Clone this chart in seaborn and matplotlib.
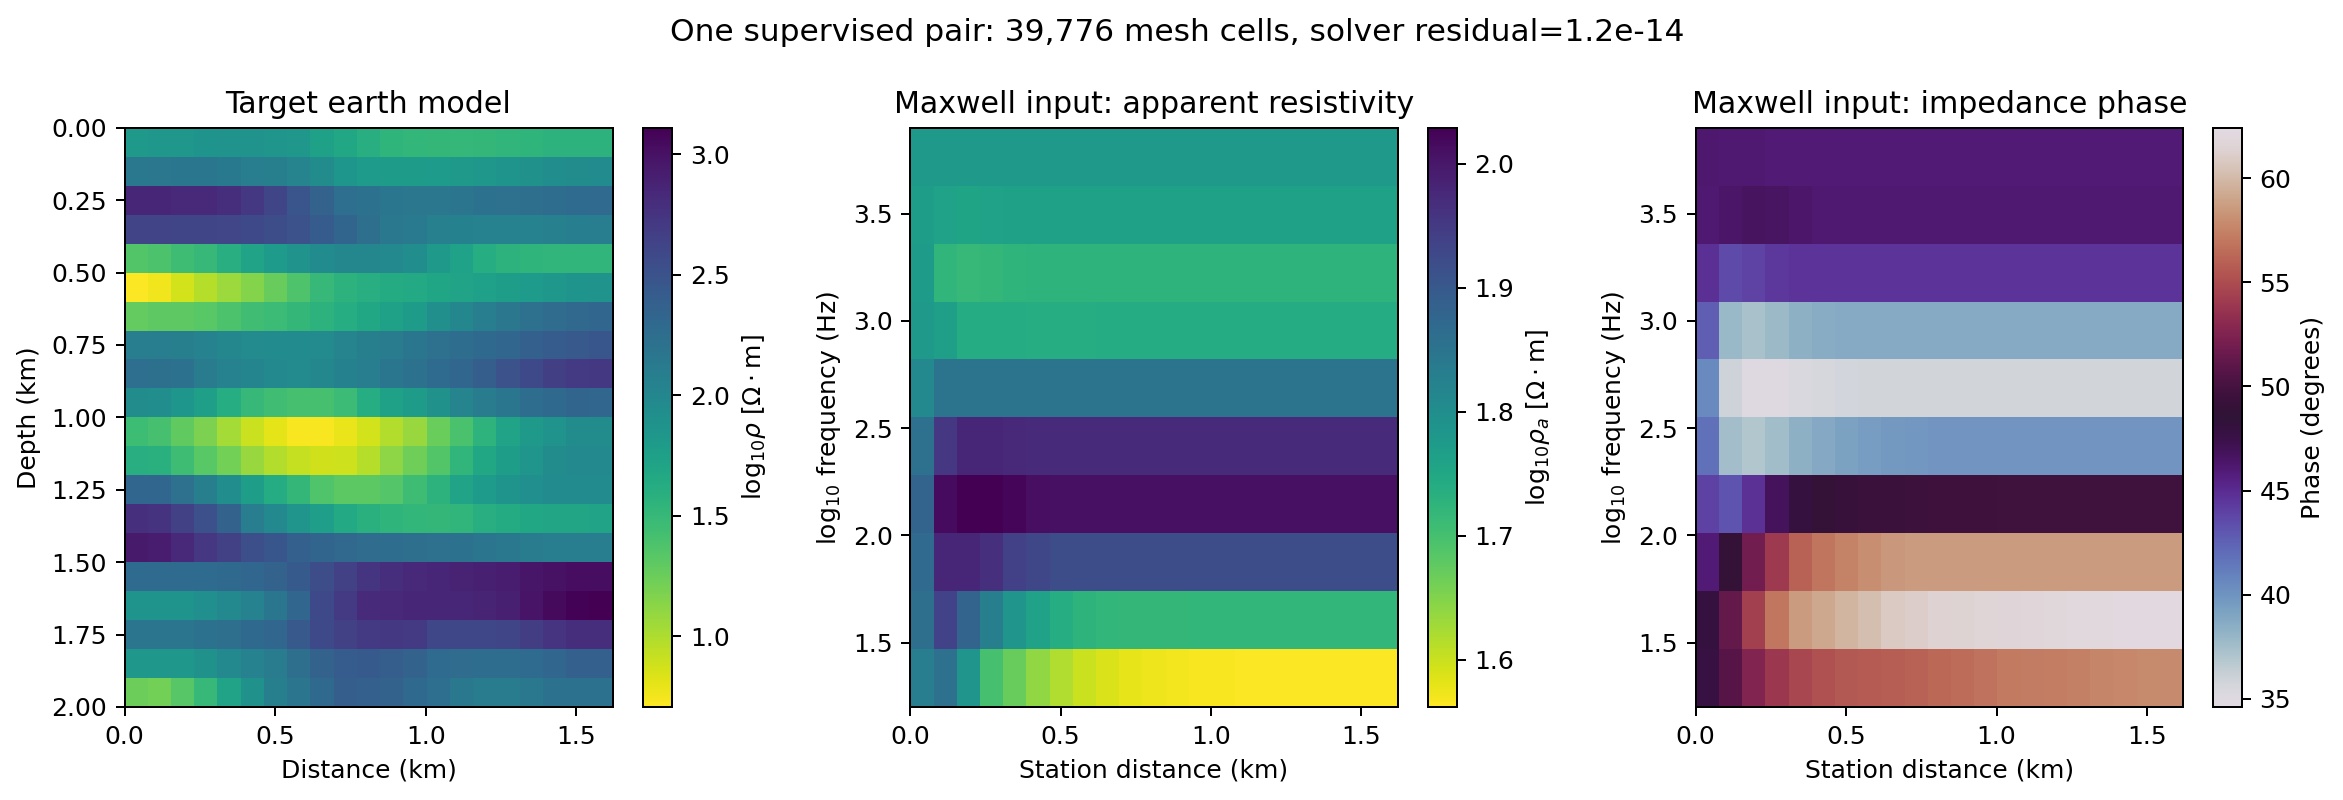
import numpy as np
import matplotlib
matplotlib.use("Agg")
import matplotlib.pyplot as plt
import seaborn as sns

# Axis extents
x_max = 1.62
depth_max = 2.0
freq_min = 1.2
freq_max = 3.9

suptitle = "One supervised pair: 39,776 mesh cells, solver residual=1.2e-14"

# log10 resistivity, rows top to bottom (depth increasing)
earth_model = [
    [1.81,1.83,1.83,1.87,1.88,1.88,1.86,1.83,1.74,1.68,1.60,1.55,1.53,1.52,1.51,1.52,1.54,1.55,1.57,1.57,1.57],
    [2.15,2.16,2.17,2.17,2.14,2.10,2.08,2.03,1.95,1.85,1.80,1.79,1.79,1.80,1.82,1.84,1.87,1.90,1.93,1.95,1.96],
    [2.85,2.85,2.84,2.84,2.80,2.72,2.62,2.48,2.35,2.25,2.20,2.17,2.16,2.16,2.18,2.20,2.22,2.24,2.26,2.28,2.29],
    [2.63,2.63,2.62,2.62,2.61,2.58,2.55,2.50,2.42,2.34,2.24,2.15,2.13,2.07,2.06,2.05,2.05,2.05,2.07,2.09,2.10],
    [1.36,1.39,1.45,1.50,1.60,1.72,1.80,1.88,1.96,2.00,2.00,1.98,1.93,1.82,1.73,1.62,1.57,1.55,1.54,1.54,1.54],
    [0.72,0.76,0.87,0.97,1.07,1.15,1.27,1.38,1.50,1.57,1.60,1.64,1.66,1.69,1.72,1.75,1.78,1.80,1.83,1.87,1.88],
    [1.28,1.30,1.30,1.33,1.39,1.44,1.47,1.52,1.57,1.62,1.68,1.74,1.79,1.91,2.00,2.10,2.16,2.22,2.27,2.31,2.32],
    [2.10,2.10,2.08,2.05,2.00,1.97,1.96,1.96,1.97,2.03,2.08,2.12,2.17,2.22,2.26,2.30,2.33,2.38,2.42,2.45,2.47],
    [2.25,2.23,2.20,2.12,2.05,2.02,1.98,1.97,2.00,2.06,2.10,2.17,2.20,2.28,2.33,2.40,2.50,2.58,2.66,2.70,2.72],
    [1.95,1.93,1.85,1.76,1.62,1.50,1.44,1.42,1.42,1.47,1.62,1.74,1.79,1.90,2.03,2.12,2.17,2.26,2.30,2.34,2.33],
    [1.46,1.42,1.29,1.18,1.03,0.90,0.81,0.73,0.73,0.79,0.87,0.98,1.08,1.26,1.40,1.56,1.72,1.82,1.88,1.95,1.95],
    [1.60,1.58,1.45,1.33,1.22,1.08,0.98,0.92,0.88,0.89,0.97,1.12,1.24,1.36,1.54,1.68,1.78,1.86,1.95,1.98,1.98],
    [2.33,2.33,2.22,2.08,1.93,1.78,1.63,1.52,1.37,1.31,1.31,1.35,1.45,1.57,1.72,1.80,1.87,1.92,1.96,1.96,1.96],
    [2.78,2.76,2.65,2.52,2.35,2.10,1.98,1.86,1.77,1.66,1.58,1.55,1.53,1.52,1.54,1.60,1.64,1.68,1.70,1.70,1.72],
    [2.95,2.92,2.83,2.73,2.65,2.53,2.47,2.38,2.34,2.31,2.27,2.26,2.24,2.22,2.20,2.18,2.15,2.12,2.10,2.10,2.10],
    [2.28,2.28,2.28,2.28,2.30,2.33,2.35,2.44,2.55,2.65,2.74,2.80,2.83,2.85,2.88,2.90,2.93,2.97,3.00,3.03,3.03],
    [1.87,1.87,1.87,1.92,1.98,2.05,2.17,2.33,2.58,2.70,2.82,2.84,2.85,2.85,2.85,2.87,2.90,2.98,3.05,3.10,3.11],
    [2.18,2.18,2.18,2.20,2.24,2.30,2.33,2.45,2.58,2.65,2.70,2.72,2.70,2.60,2.60,2.60,2.62,2.68,2.75,2.80,2.80],
    [1.83,1.83,1.83,1.90,1.98,2.05,2.12,2.24,2.36,2.42,2.44,2.40,2.36,2.28,2.27,2.26,2.26,2.28,2.33,2.38,2.38],
    [1.25,1.22,1.34,1.50,1.72,1.90,2.08,2.18,2.30,2.40,2.38,2.35,2.30,2.25,2.15,2.12,2.12,2.15,2.20,2.20,2.20],
]

# log10 apparent resistivity, rows top to bottom (frequency decreasing)
app_res = [
    [1.778,1.778,1.778,1.778,1.778,1.778,1.778,1.778,1.778,1.778,1.778,1.778,1.778,1.778,1.778,1.778,1.778,1.778,1.778,1.778,1.778],
    [1.770,1.760,1.757,1.760,1.762,1.763,1.763,1.763,1.763,1.763,1.763,1.763,1.763,1.763,1.763,1.763,1.763,1.763,1.763,1.763,1.763],
    [1.773,1.724,1.716,1.720,1.725,1.727,1.727,1.727,1.727,1.727,1.727,1.727,1.727,1.727,1.727,1.727,1.727,1.727,1.727,1.727,1.727],
    [1.777,1.768,1.742,1.742,1.742,1.740,1.740,1.740,1.741,1.741,1.741,1.741,1.741,1.741,1.741,1.741,1.741,1.741,1.741,1.741,1.741],
    [1.810,1.852,1.851,1.852,1.852,1.852,1.852,1.852,1.852,1.852,1.852,1.852,1.852,1.852,1.852,1.852,1.852,1.852,1.852,1.852,1.852],
    [1.857,1.955,1.978,1.978,1.975,1.973,1.973,1.973,1.973,1.973,1.973,1.973,1.973,1.973,1.973,1.973,1.973,1.973,1.973,1.973,1.973],
    [1.880,2.015,2.029,2.029,2.022,2.011,2.010,2.010,2.010,2.010,2.010,2.010,2.010,2.010,2.010,2.010,2.010,2.010,2.010,2.010,2.010],
    [1.870,1.978,1.978,1.964,1.940,1.930,1.921,1.920,1.920,1.920,1.920,1.920,1.920,1.920,1.920,1.920,1.920,1.920,1.920,1.920,1.920],
    [1.861,1.936,1.880,1.830,1.786,1.760,1.740,1.728,1.722,1.720,1.720,1.720,1.721,1.722,1.722,1.722,1.722,1.722,1.722,1.722,1.722],
    [1.833,1.857,1.786,1.700,1.670,1.640,1.618,1.600,1.588,1.580,1.574,1.570,1.567,1.566,1.565,1.565,1.564,1.564,1.564,1.564,1.564],
]

# Impedance phase in degrees, rows top to bottom
phase = [
    [46.2,46.1,46.1,46.0,46.0,46.0,46.0,46.0,46.0,46.0,46.0,46.0,46.0,46.0,46.0,46.0,46.0,46.0,46.0,46.0,46.0],
    [46.1,46.4,46.7,46.6,46.3,46.1,46.1,46.1,46.1,46.1,46.1,46.1,46.1,46.1,46.1,46.1,46.1,46.1,46.1,46.1,46.1],
    [44.8,43.6,43.9,44.4,44.6,44.6,44.6,44.6,44.6,44.6,44.6,44.6,44.6,44.6,44.6,44.6,44.6,44.6,44.6,44.6,44.6],
    [42.7,37.9,37.3,37.8,38.4,38.6,38.7,38.7,38.7,38.7,38.7,38.7,38.7,38.7,38.7,38.7,38.7,38.7,38.7,38.7,38.7],
    [40.5,35.9,35.0,35.0,35.3,35.5,35.7,35.8,35.8,35.8,35.8,35.8,35.8,35.8,35.8,35.8,35.8,35.8,35.8,35.8,35.8],
    [41.8,37.5,37.0,37.6,38.4,38.8,39.2,39.5,39.7,39.8,39.9,39.9,39.9,39.9,39.9,39.9,39.9,39.9,39.9,39.9,39.9],
    [44.0,43.2,44.7,46.8,48.0,48.9,49.2,49.3,49.4,49.5,49.6,49.6,49.6,49.7,49.7,49.7,49.7,49.7,49.7,49.7,49.7],
    [46.0,48.9,51.9,54.0,56.0,56.9,57.5,58.0,58.4,58.6,58.6,58.6,58.6,58.6,58.6,58.6,58.6,58.6,58.6,58.6,58.6],
    [48.0,51.3,54.3,57.0,58.6,59.2,59.8,60.2,60.9,61.1,61.4,61.5,61.6,61.7,61.8,61.9,62.0,62.1,62.2,62.2,62.2],
    [47.9,50.7,52.6,53.9,54.7,55.2,55.6,55.7,55.8,56.0,56.3,56.5,56.8,57.1,57.2,57.3,57.4,57.6,57.7,57.8,57.9],
]

x_ticks = [0.0, 0.5, 1.0, 1.5]
depth_ticks = [0.0, 0.25, 0.5, 0.75, 1.0, 1.25, 1.5, 1.75, 2.0]
freq_ticks = [1.5, 2.0, 2.5, 3.0, 3.5]

W, H = 2343, 800
DPI = 180
fig = plt.figure(figsize=(W / DPI, H / DPI), dpi=DPI)


def px_axes(left, right, top=127.8, bottom=707.0):
    return fig.add_axes([left / W, 1 - bottom / H, (right - left) / W, (bottom - top) / H])


def draw_panel(ax_box, cax_box, data, cmap, vmin, vmax, title, xlabel, ylabel, clabel):
    ax = px_axes(*ax_box)
    cax = px_axes(*cax_box)
    sns.heatmap(np.array(data), ax=ax, cbar_ax=cax, cmap=cmap, vmin=vmin, vmax=vmax,
                xticklabels=False, yticklabels=False, cbar_kws={"label": clabel})
    for spine in ax.spines.values():
        spine.set_visible(True)
        spine.set_linewidth(0.8)
    ax.collections[0].colorbar.outline.set_linewidth(0.8)
    ax.set_title(title)
    ax.set_xlabel(xlabel)
    ax.set_ylabel(ylabel)
    n_rows, n_cols = np.array(data).shape
    ax.set_xticks([t / x_max * n_cols for t in x_ticks])
    ax.set_xticklabels([f"{t:.1f}" for t in x_ticks])
    ax.tick_params(axis="both", length=3.5, width=0.8, rotation=0)
    return ax, n_rows


ax1, n1 = draw_panel((124.5, 612.5), (642.7, 672.3), earth_model, "viridis_r", 0.707, 3.11,
                     "Target earth model", "Distance (km)", "Depth (km)",
                     r"$\mathrm{log}_{10}\rho$ [$\Omega\cdot$m]")
ax1.set_yticks([d / depth_max * n1 for d in depth_ticks])
ax1.set_yticklabels([f"{d:.2f}" for d in depth_ticks])

ax2, n2 = draw_panel((910.3, 1397.5), (1427.7, 1457.0), app_res, "viridis_r", 1.562, 2.029,
                     "Maxwell input: apparent resistivity", "Station distance (km)",
                     r"$\mathrm{log}_{10}$ frequency (Hz)", r"$\mathrm{log}_{10}\rho_a$ [$\Omega\cdot$m]")
ax3, n3 = draw_panel((1695.7, 2183.0), (2212.7, 2242.0), phase, "twilight", 34.6, 62.43,
                     "Maxwell input: impedance phase", "Station distance (km)",
                     r"$\mathrm{log}_{10}$ frequency (Hz)", "Phase (degrees)")
for ax, n in ((ax2, n2), (ax3, n3)):
    ax.set_yticks([(freq_max - f) / (freq_max - freq_min) * n for f in freq_ticks])
    ax.set_yticklabels([f"{f:.1f}" for f in freq_ticks])

fig.suptitle(suptitle, x=0.5025, y=0.978, fontsize=12.5)

fig.savefig("out.png", dpi=DPI)
